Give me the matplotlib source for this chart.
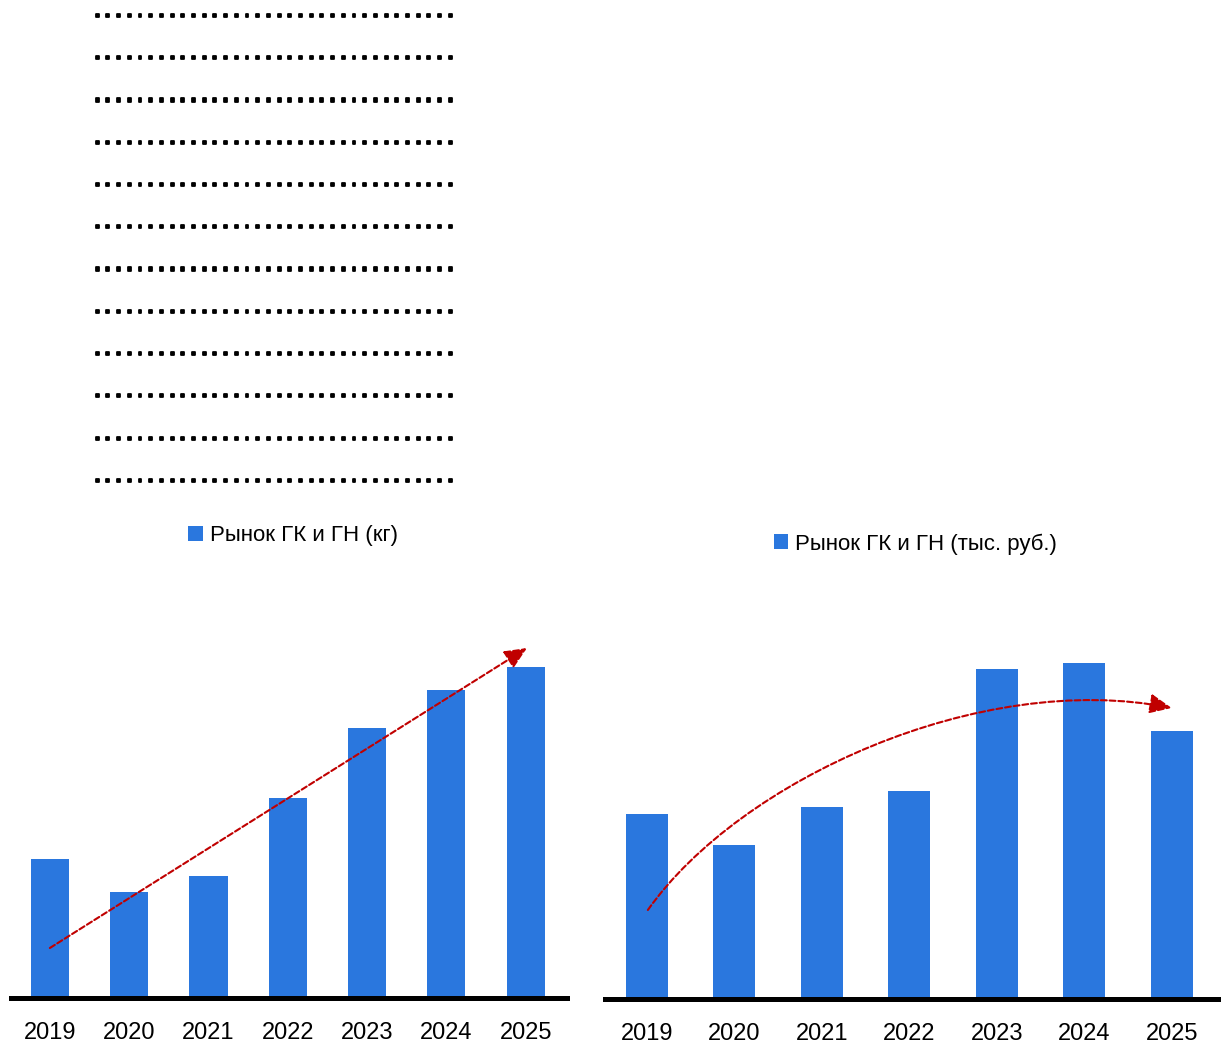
import matplotlib
matplotlib.use('Agg')
import matplotlib.pyplot as plt
import matplotlib.patheffects as pe
import numpy as np
from matplotlib.path import Path
from matplotlib.patches import FancyArrowPatch

# ---- data (relative bar heights) ----
years = ['2019', '2020', '2021', '2022', '2023', '2024', '2025']
market_kg = [139, 106, 122, 200, 270, 308, 331]
market_rub = [185, 154, 192, 208, 330, 336, 268]
label_kg = 'Рынок ГК и ГН (кг)'
label_rub = 'Рынок ГК и ГН (тыс. руб.)'
leader = '.' * 34

BLUE = '#2A77DE'
RED = '#C00000'
FONT = ['Liberation Sans Narrow', 'Liberation Sans', 'DejaVu Sans']
plt.rcParams['font.family'] = FONT

W, H = 1221, 1048
fig = plt.figure(figsize=(W / 100, H / 100), dpi=100)


def px_axes(x0, x1, ybot, ytop):
    return fig.add_axes([x0 / W, 1 - ybot / H, (x1 - x0) / W, (ybot - ytop) / H])


def style(ax, xlim, ytop):
    ax.set_xlim(*xlim)
    ax.set_ylim(0, ytop)
    for s in ['top', 'left', 'right']:
        ax.spines[s].set_visible(False)
    ax.spines['bottom'].set_linewidth(3.6)
    ax.spines['bottom'].set_color('black')
    ax.spines['bottom'].set_zorder(5)
    ax.set_yticks([])
    ax.set_xticks(range(len(years)))
    ax.set_xticklabels(years, fontsize=17)
    ax.tick_params(axis='x', length=0, pad=17.5)
    ax.patch.set_alpha(0)


dash = (0, (2.8, 1.4))
astyle = '-|>,head_length=0.45,head_width=0.2'

# ---- left chart ----
ax1 = px_axes(11, 567, 998, 600)
b1 = ax1.bar(range(len(years)), market_kg, width=0.48, color=BLUE, zorder=2)
style(ax1, (-0.49, 6.52), 398)
ax1.annotate('', xy=(6.015, 350), xytext=(0, 50),
             arrowprops=dict(arrowstyle=astyle, mutation_scale=30, color=RED,
                             lw=1.5, linestyle=dash, shrinkA=0, shrinkB=0),
             zorder=4, annotation_clip=False)

# ---- right chart ----
ax2 = px_axes(605, 1219, 999, 600)
b2 = ax2.bar(range(len(years)), market_rub, width=0.48, color=BLUE, zorder=2)
style(ax2, (-0.48, 6.54), 399)
verts = [(0.01, 89), (1.06, 219), (3.81, 329), (6.0, 291)]
codes = [Path.MOVETO, Path.CURVE4, Path.CURVE4, Path.CURVE4]
arr = FancyArrowPatch(path=Path(verts, codes), arrowstyle=astyle,
                      mutation_scale=30, color=RED, lw=1.5, linestyle=dash,
                      transform=ax2.transData, zorder=4, clip_on=False)
ax2.add_patch(arr)

# ---- legends ----
for handle, lab, cx, cy in [(b1, label_kg, 293, 536), (b2, label_rub, 915, 544)]:
    fig.legend(handles=[handle], labels=[lab], loc='center',
               bbox_to_anchor=(cx / W, 1 - cy / H), frameon=False, fontsize=16,
               handlelength=0.65, handleheight=0.65, handletextpad=0.3,
               borderpad=0, borderaxespad=0)

# ---- dotted leader rows (text) ----
for yc in np.linspace(15, 480, 12):
    fig.text(91.8 / W, 1 - (yc + 2) / H, leader, fontsize=12.8, fontweight='bold',
             family=['DejaVu Sans Mono'], ha='left', va='baseline',
             color='black',
             path_effects=[pe.withStroke(linewidth=1.3, foreground='black')])

fig.savefig('out.png', dpi=100)
